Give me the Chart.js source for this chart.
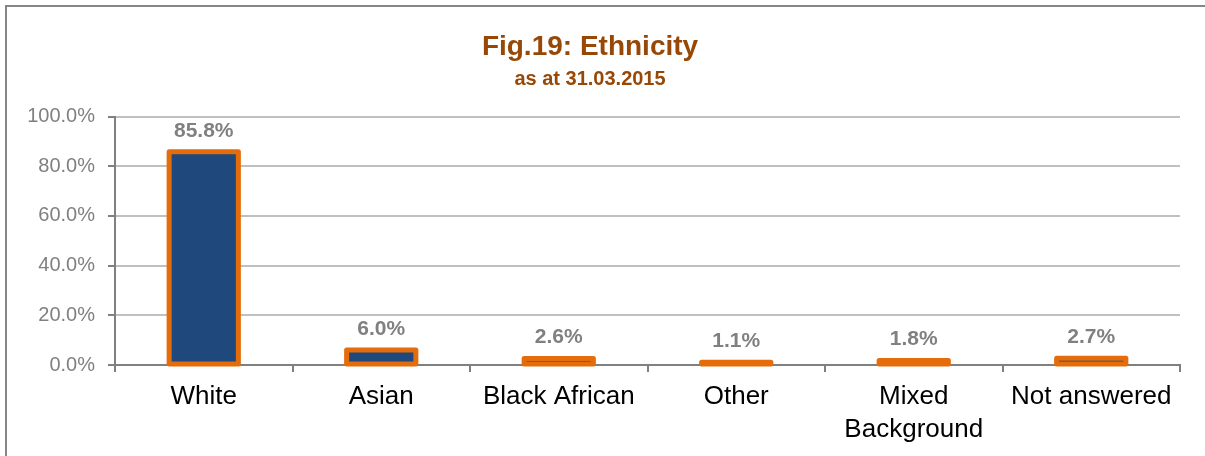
<!DOCTYPE html>
<html>
<head>
<meta charset="utf-8">
<script src="https://cdn.jsdelivr.net/npm/chart.js@4/dist/chart.umd.min.js"></script>
<style>
  html, body { margin: 0; padding: 0; background: #fff; }
  #wrap { width: 1205px; height: 456px; }
</style>
</head>
<body>
<div id="wrap"><canvas id="ethnicityChart"></canvas></div>
<script>
const categories = ['White', 'Asian', 'Black African', 'Other', ['Mixed', 'Background'], 'Not answered'];
const shares = [85.8, 6.0, 2.6, 1.1, 1.8, 2.7]; // percent of staff
const yTicks = [0, 20, 40, 60, 80, 100];

const NAVY = '#1F497D';
const ORANGE = '#E46C0A';
const GREY = '#808080';
const FONT = 'Arial, "Liberation Sans", sans-serif';

// Excel draws the bar outline centred on the edge, so stroke it ourselves
const outlineBars = {
    id: 'outlineBars',
    afterDatasetsDraw(chart) {
        const c = chart.ctx;
        c.save();
        c.strokeStyle = ORANGE;
        c.lineWidth = 5;
        c.lineJoin = 'round';
        chart.getDatasetMeta(0).data.forEach(bar => {
            const left = bar.x - bar.width / 2;
            c.strokeRect(left, bar.y, bar.width, bar.base - bar.y);
        });
        c.restore();
    }
};

const valueLabels = {
    id: 'valueLabels',
    afterDatasetsDraw(chart) {
        const c = chart.ctx;
        c.save();
        c.font = 'bold 21px ' + FONT;
        c.fillStyle = GREY;
        c.textAlign = 'center';
        c.textBaseline = 'middle';
        chart.getDatasetMeta(0).data.forEach((bar, i) => {
            c.fillText(shares[i].toFixed(1) + '%', bar.x, bar.y - 21);
        });
        c.restore();
    }
};

const frame = {
    id: 'frame',
    beforeDraw(chart) {
        const c = chart.ctx;
        c.save();
        c.strokeStyle = '#868686';
        c.lineWidth = 2;
        c.strokeRect(6, 6, chart.width, chart.height);
        c.restore();
    }
};

new Chart(document.getElementById('ethnicityChart'), {
    type: 'bar',
    data: {
        labels: categories,
        datasets: [{
            data: shares,
            backgroundColor: NAVY,
            borderWidth: 0,
            categoryPercentage: 1,
            barPercentage: 0.39
        }]
    },
    options: {
        responsive: true,
        maintainAspectRatio: false,
        animation: false,
        layout: { padding: { left: 0, right: 25, top: 0, bottom: 0 } },
        plugins: {
            legend: { display: false },
            tooltip: { enabled: false },
            title: {
                display: true,
                text: 'Fig.19: Ethnicity',
                color: '#984806',
                font: { family: FONT, size: 28, weight: 'bold', lineHeight: 1.2 },
                padding: { top: 30, bottom: 2 }
            },
            subtitle: {
                display: true,
                text: 'as at 31.03.2015',
                color: '#984806',
                font: { family: FONT, size: 20, weight: 'bold', lineHeight: 1.2 },
                padding: { top: 2, bottom: 25 }
            }
        },
        scales: {
            x: {
                grid: { drawOnChartArea: false, offset: true, tickLength: 7, color: GREY, lineWidth: 2 },
                border: { color: GREY, width: 2 },
                ticks: {
                    color: '#000',
                    font: { family: FONT, size: 26, lineHeight: 1.25 },
                    padding: 9,
                    maxRotation: 0,
                    autoSkip: false
                },
                afterFit(scale) { scale.height = 91; }
            },
            y: {
                min: 0,
                max: 100,
                afterBuildTicks(scale) { scale.ticks = yTicks.map(v => ({ value: v })); },
                grid: { color: '#C0C0C0', lineWidth: 2, tickColor: GREY, tickLength: 7 },
                border: { color: GREY, width: 2 },
                ticks: {
                    color: GREY,
                    font: { family: FONT, size: 20 },
                    padding: 13,
                    callback: v => v.toFixed(1) + '%'
                },
                afterFit(scale) { scale.width = 115; }
            }
        }
    },
    plugins: [frame, outlineBars, valueLabels]
});
</script>
</body>
</html>
